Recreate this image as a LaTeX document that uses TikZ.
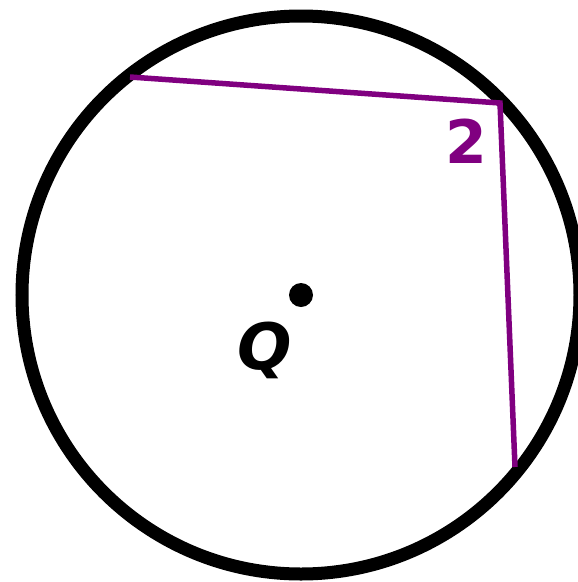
\documentclass[tikz,border=0pt]{standalone}
\usepackage{fontspec}
\setmainfont{DejaVu Sans}
\definecolor{chordpurple}{HTML}{800080}
\begin{document}
\begin{tikzpicture}[x=1pt,y=-1pt,
  rim/.style={draw=black,line width=13pt},
  chord/.style={draw=chordpurple,line width=5.5pt,line join=miter},
  lbl/.style={inner sep=0pt}]
\clip (0,0) rectangle (578,582);
\coordinate (O) at (301,295);
\path[rim] (O) circle[radius=279];
\fill[black] (O) circle[radius=12];
\coordinate (A) at (130,77);
\coordinate (B) at (500,103);
\coordinate (C) at (515,467);
\draw[chord] (A) -- (B) -- (C);
\node[lbl,text=chordpurple,font=\fontsize{60}{60}\selectfont\bfseries] (two) at (466,141) {2};
\node[lbl,font=\fontsize{64}{64}\selectfont\bfseries\itshape] (q) at (265,350) {Q};
\end{tikzpicture}
\end{document}
